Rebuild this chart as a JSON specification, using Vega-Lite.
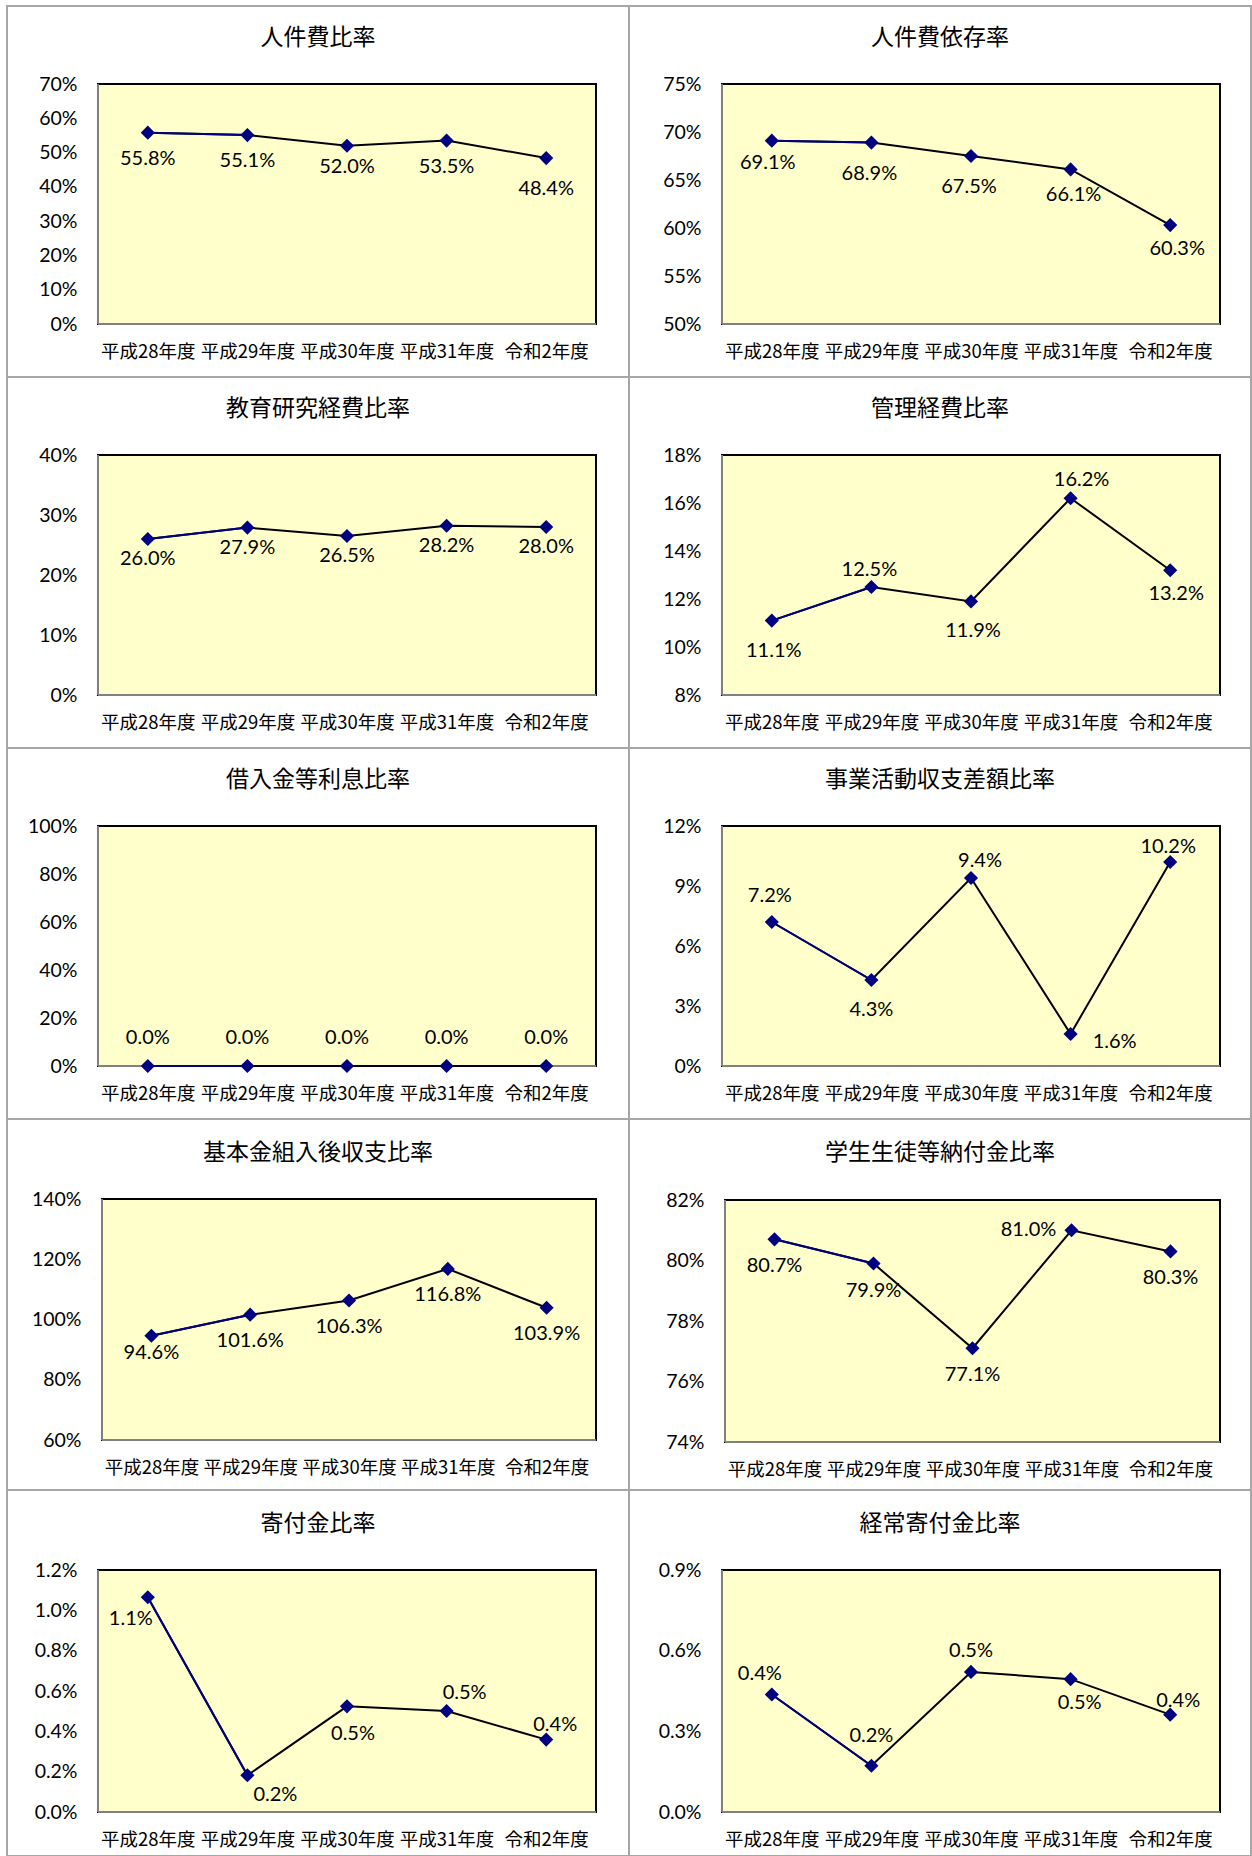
{
"$schema": "https://vega.github.io/schema/vega-lite/v6.json",
"background": "#ffffff",
"padding": {"left": 6, "top": 5, "right": 0, "bottom": 0},
"datasets": {
"p1": [{"i":0,"year":"平成28年度","v":0.558},{"i":1,"year":"平成29年度","v":0.551},{"i":2,"year":"平成30年度","v":0.520},{"i":3,"year":"平成31年度","v":0.535},{"i":4,"year":"令和2年度","v":0.484}],
"p2": [{"i":0,"year":"平成28年度","v":0.691},{"i":1,"year":"平成29年度","v":0.689},{"i":2,"year":"平成30年度","v":0.675},{"i":3,"year":"平成31年度","v":0.661},{"i":4,"year":"令和2年度","v":0.603}],
"p3": [{"i":0,"year":"平成28年度","v":0.260},{"i":1,"year":"平成29年度","v":0.279},{"i":2,"year":"平成30年度","v":0.265},{"i":3,"year":"平成31年度","v":0.282},{"i":4,"year":"令和2年度","v":0.280}],
"p4": [{"i":0,"year":"平成28年度","v":0.111},{"i":1,"year":"平成29年度","v":0.125},{"i":2,"year":"平成30年度","v":0.119},{"i":3,"year":"平成31年度","v":0.162},{"i":4,"year":"令和2年度","v":0.132}],
"p5": [{"i":0,"year":"平成28年度","v":0},{"i":1,"year":"平成29年度","v":0},{"i":2,"year":"平成30年度","v":0},{"i":3,"year":"平成31年度","v":0},{"i":4,"year":"令和2年度","v":0}],
"p6": [{"i":0,"year":"平成28年度","v":0.072},{"i":1,"year":"平成29年度","v":0.043},{"i":2,"year":"平成30年度","v":0.094},{"i":3,"year":"平成31年度","v":0.016},{"i":4,"year":"令和2年度","v":0.102}],
"p7": [{"i":0,"year":"平成28年度","v":0.946},{"i":1,"year":"平成29年度","v":1.016},{"i":2,"year":"平成30年度","v":1.063},{"i":3,"year":"平成31年度","v":1.168},{"i":4,"year":"令和2年度","v":1.039}],
"p8": [{"i":0,"year":"平成28年度","v":0.807},{"i":1,"year":"平成29年度","v":0.799},{"i":2,"year":"平成30年度","v":0.771},{"i":3,"year":"平成31年度","v":0.810},{"i":4,"year":"令和2年度","v":0.803}],
"p9": [{"i":0,"year":"平成28年度","v":0.01065},{"i":1,"year":"平成29年度","v":0.00182},{"i":2,"year":"平成30年度","v":0.00524},{"i":3,"year":"平成31年度","v":0.00501},{"i":4,"year":"令和2年度","v":0.00359}],
"p10": [{"i":0,"year":"平成28年度","v":0.00437},{"i":1,"year":"平成29年度","v":0.00172},{"i":2,"year":"平成30年度","v":0.00521},{"i":3,"year":"平成31年度","v":0.00494},{"i":4,"year":"令和2年度","v":0.00362}]
},
"columns": 2,
"spacing": 0,
"bounds": "flush",
"concat": [
{"width":622,"height":371,"title":{"text":"人件費比率"},"data":{"name":"p1"},
"encoding":{"x":{"field":"i","type":"quantitative","scale":{"domain":[-1.41365,4.83133],"nice":false,"zero":false},"axis":{"title":null,"values":[0,1,2,3,4],"labelExpr":"['平成28年度','平成29年度','平成30年度','平成31年度','令和2年度'][datum.value]","offset":-26}},
"y":{"field":"v","type":"quantitative","scale":{"domain":[-0.154583,0.9275],"nice":false,"zero":false},"axis":{"title":null,"values":[0,0.1,0.2,0.3,0.4,0.5,0.6,0.7],"format":".0%","offset":-70}}},
"layer":[
{"mark":{"type":"rect","fill":"#FFFFCC","stroke":"#000000","strokeWidth":2},"encoding":{"x":{"datum":-0.5},"x2":{"datum":4.5},"y":{"datum":0},"y2":{"datum":0.7}}},
{"data":{"values":[{"t":0.1},{"t":0.2},{"t":0.3},{"t":0.4},{"t":0.5},{"t":0.6}]},"mark":{"type":"rule","color":"#8c8c8c","strokeWidth":1.5},"encoding":{"x":{"datum":-0.5},"x2":{"datum":4.5},"y":{"field":"t","type":"quantitative"}}},
{"mark":{"type":"rule","color":"#808080","strokeWidth":2},"encoding":{"x":{"datum":-0.5},"y":{"datum":0},"y2":{"datum":0.7}}},
{"mark":{"type":"rule","color":"#808080","strokeWidth":2},"encoding":{"x":{"datum":-0.5},"x2":{"datum":4.5},"y":{"datum":0}}},
{"mark":{"type":"line","color":"#000000","strokeWidth":2},"encoding":{}},
{"transform":[{"filter":"datum.i<=1"}],"mark":{"type":"line","color":"#000080","strokeWidth":2},"encoding":{}},
{"mark":{"type":"point","shape":"diamond","filled":true,"color":"#000080","size":200,"opacity":1},"encoding":{}},
{"transform":[{"filter":"datum.i==0||datum.i==1||datum.i==3"}],"mark":{"type":"text","dy":26},"encoding":{"text":{"field":"v","type":"quantitative","format":".1%"}}},
{"transform":[{"filter":"datum.i==2"}],"mark":{"type":"text","dy":21},"encoding":{"text":{"field":"v","type":"quantitative","format":".1%"}}},
{"transform":[{"filter":"datum.i==4"}],"mark":{"type":"text","dy":31},"encoding":{"text":{"field":"v","type":"quantitative","format":".1%"}}}
]},
{"width":622,"height":371,"title":{"text":"人件費依存率"},"data":{"name":"p2"},
"encoding":{"x":{"field":"i","type":"quantitative","scale":{"domain":[-1.43373,4.81124],"nice":false,"zero":false},"axis":{"title":null,"values":[0,1,2,3,4],"labelExpr":"['平成28年度','平成29年度','平成30年度','平成31年度','令和2年度'][datum.value]","offset":-26}},
"y":{"field":"v","type":"quantitative","scale":{"domain":[0.4447917,0.83125],"nice":false,"zero":false},"axis":{"title":null,"values":[0.5,0.55,0.6,0.65,0.7,0.75],"format":".0%","offset":-72}}},
"layer":[
{"mark":{"type":"rect","fill":"#FFFFCC","stroke":"#000000","strokeWidth":2},"encoding":{"x":{"datum":-0.5},"x2":{"datum":4.5},"y":{"datum":0.5},"y2":{"datum":0.75}}},
{"data":{"values":[{"t":0.55},{"t":0.6},{"t":0.65},{"t":0.7}]},"mark":{"type":"rule","color":"#8c8c8c","strokeWidth":1.5},"encoding":{"x":{"datum":-0.5},"x2":{"datum":4.5},"y":{"field":"t","type":"quantitative"}}},
{"mark":{"type":"rule","color":"#808080","strokeWidth":2},"encoding":{"x":{"datum":-0.5},"y":{"datum":0.5},"y2":{"datum":0.75}}},
{"mark":{"type":"rule","color":"#808080","strokeWidth":2},"encoding":{"x":{"datum":-0.5},"x2":{"datum":4.5},"y":{"datum":0.5}}},
{"mark":{"type":"line","color":"#000000","strokeWidth":2},"encoding":{}},
{"transform":[{"filter":"datum.i<=1"}],"mark":{"type":"line","color":"#000080","strokeWidth":2},"encoding":{}},
{"mark":{"type":"point","shape":"diamond","filled":true,"color":"#000080","size":200,"opacity":1},"encoding":{}},
{"transform":[{"filter":"datum.i==0"}],"mark":{"type":"text","dx":-4,"dy":22},"encoding":{"text":{"field":"v","type":"quantitative","format":".1%"}}},
{"transform":[{"filter":"datum.i==1||datum.i==2"}],"mark":{"type":"text","dx":-2,"dy":31},"encoding":{"text":{"field":"v","type":"quantitative","format":".1%"}}},
{"transform":[{"filter":"datum.i==3"}],"mark":{"type":"text","dx":3,"dy":26},"encoding":{"text":{"field":"v","type":"quantitative","format":".1%"}}},
{"transform":[{"filter":"datum.i==4"}],"mark":{"type":"text","dx":7,"dy":24},"encoding":{"text":{"field":"v","type":"quantitative","format":".1%"}}}
]},
{"width":622,"height":371,"title":{"text":"教育研究経費比率"},"data":{"name":"p3"},
"encoding":{"x":{"field":"i","type":"quantitative","scale":{"domain":[-1.41365,4.83133],"nice":false,"zero":false},"axis":{"title":null,"values":[0,1,2,3,4],"labelExpr":"['平成28年度','平成29年度','平成30年度','平成31年度','令和2年度'][datum.value]","offset":-26}},
"y":{"field":"v","type":"quantitative","scale":{"domain":[-0.0883333,0.53],"nice":false,"zero":false},"axis":{"title":null,"values":[0,0.1,0.2,0.3,0.4],"format":".0%","offset":-70}}},
"layer":[
{"mark":{"type":"rect","fill":"#FFFFCC","stroke":"#000000","strokeWidth":2},"encoding":{"x":{"datum":-0.5},"x2":{"datum":4.5},"y":{"datum":0},"y2":{"datum":0.4}}},
{"data":{"values":[{"t":0.1},{"t":0.2},{"t":0.3}]},"mark":{"type":"rule","color":"#8c8c8c","strokeWidth":1.5},"encoding":{"x":{"datum":-0.5},"x2":{"datum":4.5},"y":{"field":"t","type":"quantitative"}}},
{"mark":{"type":"rule","color":"#808080","strokeWidth":2},"encoding":{"x":{"datum":-0.5},"y":{"datum":0},"y2":{"datum":0.4}}},
{"mark":{"type":"rule","color":"#808080","strokeWidth":2},"encoding":{"x":{"datum":-0.5},"x2":{"datum":4.5},"y":{"datum":0}}},
{"mark":{"type":"line","color":"#000000","strokeWidth":2},"encoding":{}},
{"transform":[{"filter":"datum.i<=1"}],"mark":{"type":"line","color":"#000080","strokeWidth":2},"encoding":{}},
{"mark":{"type":"point","shape":"diamond","filled":true,"color":"#000080","size":200,"opacity":1},"encoding":{}},
{"mark":{"type":"text","dy":20},"encoding":{"text":{"field":"v","type":"quantitative","format":".1%"}}}
]},
{"width":622,"height":371,"title":{"text":"管理経費比率"},"data":{"name":"p4"},
"encoding":{"x":{"field":"i","type":"quantitative","scale":{"domain":[-1.43373,4.81124],"nice":false,"zero":false},"axis":{"title":null,"values":[0,1,2,3,4],"labelExpr":"['平成28年度','平成29年度','平成30年度','平成31年度','令和2年度'][datum.value]","offset":-26}},
"y":{"field":"v","type":"quantitative","scale":{"domain":[0.0579167,0.2125],"nice":false,"zero":false},"axis":{"title":null,"values":[0.08,0.1,0.12,0.14,0.16,0.18],"format":".0%","offset":-72}}},
"layer":[
{"mark":{"type":"rect","fill":"#FFFFCC","stroke":"#000000","strokeWidth":2},"encoding":{"x":{"datum":-0.5},"x2":{"datum":4.5},"y":{"datum":0.08},"y2":{"datum":0.18}}},
{"data":{"values":[{"t":0.1},{"t":0.12},{"t":0.14},{"t":0.16}]},"mark":{"type":"rule","color":"#8c8c8c","strokeWidth":1.5},"encoding":{"x":{"datum":-0.5},"x2":{"datum":4.5},"y":{"field":"t","type":"quantitative"}}},
{"mark":{"type":"rule","color":"#808080","strokeWidth":2},"encoding":{"x":{"datum":-0.5},"y":{"datum":0.08},"y2":{"datum":0.18}}},
{"mark":{"type":"rule","color":"#808080","strokeWidth":2},"encoding":{"x":{"datum":-0.5},"x2":{"datum":4.5},"y":{"datum":0.08}}},
{"mark":{"type":"line","color":"#000000","strokeWidth":2},"encoding":{}},
{"transform":[{"filter":"datum.i<=1"}],"mark":{"type":"line","color":"#000080","strokeWidth":2},"encoding":{}},
{"mark":{"type":"point","shape":"diamond","filled":true,"color":"#000080","size":200,"opacity":1},"encoding":{}},
{"transform":[{"filter":"datum.i==0||datum.i==2"}],"mark":{"type":"text","dx":2,"dy":30},"encoding":{"text":{"field":"v","type":"quantitative","format":".1%"}}},
{"transform":[{"filter":"datum.i==4"}],"mark":{"type":"text","dx":6,"dy":24},"encoding":{"text":{"field":"v","type":"quantitative","format":".1%"}}},
{"transform":[{"filter":"datum.i==1"}],"mark":{"type":"text","dx":-2,"dy":-17},"encoding":{"text":{"field":"v","type":"quantitative","format":".1%"}}},
{"transform":[{"filter":"datum.i==3"}],"mark":{"type":"text","dx":11,"dy":-18},"encoding":{"text":{"field":"v","type":"quantitative","format":".1%"}}}
]},
{"width":622,"height":371,"title":{"text":"借入金等利息比率"},"data":{"name":"p5"},
"encoding":{"x":{"field":"i","type":"quantitative","scale":{"domain":[-1.41365,4.83133],"nice":false,"zero":false},"axis":{"title":null,"values":[0,1,2,3,4],"labelExpr":"['平成28年度','平成29年度','平成30年度','平成31年度','令和2年度'][datum.value]","offset":-26}},
"y":{"field":"v","type":"quantitative","scale":{"domain":[-0.2208333,1.325],"nice":false,"zero":false},"axis":{"title":null,"values":[0,0.2,0.4,0.6,0.8,1.0],"format":".0%","offset":-70}}},
"layer":[
{"mark":{"type":"rect","fill":"#FFFFCC","stroke":"#000000","strokeWidth":2},"encoding":{"x":{"datum":-0.5},"x2":{"datum":4.5},"y":{"datum":0},"y2":{"datum":1.0}}},
{"data":{"values":[{"t":0.2},{"t":0.4},{"t":0.6},{"t":0.8}]},"mark":{"type":"rule","color":"#8c8c8c","strokeWidth":1.5},"encoding":{"x":{"datum":-0.5},"x2":{"datum":4.5},"y":{"field":"t","type":"quantitative"}}},
{"mark":{"type":"rule","color":"#808080","strokeWidth":2},"encoding":{"x":{"datum":-0.5},"y":{"datum":0},"y2":{"datum":1.0}}},
{"mark":{"type":"rule","color":"#808080","strokeWidth":2},"encoding":{"x":{"datum":-0.5},"x2":{"datum":4.5},"y":{"datum":0}}},
{"mark":{"type":"line","color":"#000000","strokeWidth":2},"encoding":{}},
{"transform":[{"filter":"datum.i<=1"}],"mark":{"type":"line","color":"#000080","strokeWidth":2},"encoding":{}},
{"mark":{"type":"point","shape":"diamond","filled":true,"color":"#000080","size":200,"opacity":1},"encoding":{}},
{"mark":{"type":"text","dy":-28},"encoding":{"text":{"field":"v","type":"quantitative","format":".1%"}}}
]},
{"width":622,"height":371,"title":{"text":"事業活動収支差額比率"},"data":{"name":"p6"},
"encoding":{"x":{"field":"i","type":"quantitative","scale":{"domain":[-1.43373,4.81124],"nice":false,"zero":false},"axis":{"title":null,"values":[0,1,2,3,4],"labelExpr":"['平成28年度','平成29年度','平成30年度','平成31年度','令和2年度'][datum.value]","offset":-26}},
"y":{"field":"v","type":"quantitative","scale":{"domain":[-0.0265,0.159],"nice":false,"zero":false},"axis":{"title":null,"values":[0,0.03,0.06,0.09,0.12],"format":".0%","offset":-72}}},
"layer":[
{"mark":{"type":"rect","fill":"#FFFFCC","stroke":"#000000","strokeWidth":2},"encoding":{"x":{"datum":-0.5},"x2":{"datum":4.5},"y":{"datum":0},"y2":{"datum":0.12}}},
{"data":{"values":[{"t":0.03},{"t":0.06},{"t":0.09}]},"mark":{"type":"rule","color":"#8c8c8c","strokeWidth":1.5},"encoding":{"x":{"datum":-0.5},"x2":{"datum":4.5},"y":{"field":"t","type":"quantitative"}}},
{"mark":{"type":"rule","color":"#808080","strokeWidth":2},"encoding":{"x":{"datum":-0.5},"y":{"datum":0},"y2":{"datum":0.12}}},
{"mark":{"type":"rule","color":"#808080","strokeWidth":2},"encoding":{"x":{"datum":-0.5},"x2":{"datum":4.5},"y":{"datum":0}}},
{"mark":{"type":"line","color":"#000000","strokeWidth":2},"encoding":{}},
{"transform":[{"filter":"datum.i<=1"}],"mark":{"type":"line","color":"#000080","strokeWidth":2},"encoding":{}},
{"mark":{"type":"point","shape":"diamond","filled":true,"color":"#000080","size":200,"opacity":1},"encoding":{}},
{"transform":[{"filter":"datum.i==0"}],"mark":{"type":"text","dx":-2,"dy":-26},"encoding":{"text":{"field":"v","type":"quantitative","format":".1%"}}},
{"transform":[{"filter":"datum.i==1"}],"mark":{"type":"text","dy":30},"encoding":{"text":{"field":"v","type":"quantitative","format":".1%"}}},
{"transform":[{"filter":"datum.i==2"}],"mark":{"type":"text","dx":9,"dy":-17},"encoding":{"text":{"field":"v","type":"quantitative","format":".1%"}}},
{"transform":[{"filter":"datum.i==3"}],"mark":{"type":"text","dx":44,"dy":8},"encoding":{"text":{"field":"v","type":"quantitative","format":".1%"}}},
{"transform":[{"filter":"datum.i==4"}],"mark":{"type":"text","dx":-2,"dy":-15},"encoding":{"text":{"field":"v","type":"quantitative","format":".1%"}}}
]},
{"width":622,"height":371,"title":{"text":"基本金組入後収支比率","offset":-46},"data":{"name":"p7"},
"encoding":{"x":{"field":"i","type":"quantitative","scale":{"domain":[-1.46154,4.83401],"nice":false,"zero":false},"axis":{"title":null,"values":[0,1,2,3,4],"labelExpr":"['平成28年度','平成29年度','平成30年度','平成31年度','令和2年度'][datum.value]","offset":-23}},
"y":{"field":"v","type":"quantitative","scale":{"domain":[0.434025,1.66556],"nice":false,"zero":false},"axis":{"title":null,"values":[0.6,0.8,1.0,1.2,1.4],"format":".0%","offset":-74}}},
"layer":[
{"mark":{"type":"rect","fill":"#FFFFCC","stroke":"#000000","strokeWidth":2},"encoding":{"x":{"datum":-0.5},"x2":{"datum":4.5},"y":{"datum":0.6},"y2":{"datum":1.4}}},
{"data":{"values":[{"t":0.8},{"t":1.0},{"t":1.2}]},"mark":{"type":"rule","color":"#8c8c8c","strokeWidth":1.5},"encoding":{"x":{"datum":-0.5},"x2":{"datum":4.5},"y":{"field":"t","type":"quantitative"}}},
{"mark":{"type":"rule","color":"#808080","strokeWidth":2},"encoding":{"x":{"datum":-0.5},"y":{"datum":0.6},"y2":{"datum":1.4}}},
{"mark":{"type":"rule","color":"#808080","strokeWidth":2},"encoding":{"x":{"datum":-0.5},"x2":{"datum":4.5},"y":{"datum":0.6}}},
{"mark":{"type":"line","color":"#000000","strokeWidth":2},"encoding":{}},
{"transform":[{"filter":"datum.i<=1"}],"mark":{"type":"line","color":"#000080","strokeWidth":2},"encoding":{}},
{"mark":{"type":"point","shape":"diamond","filled":true,"color":"#000080","size":200,"opacity":1},"encoding":{}},
{"transform":[{"filter":"datum.i==0"}],"mark":{"type":"text","dy":17},"encoding":{"text":{"field":"v","type":"quantitative","format":".1%"}}},
{"transform":[{"filter":"datum.i>=1"}],"mark":{"type":"text","dy":26},"encoding":{"text":{"field":"v","type":"quantitative","format":".1%"}}}
]},
{"width":622,"height":371,"title":{"text":"学生生徒等納付金比率","offset":-46},"data":{"name":"p8"},
"encoding":{"x":{"field":"i","type":"quantitative","scale":{"domain":[-1.4697,4.81313],"nice":false,"zero":false},"axis":{"title":null,"values":[0,1,2,3,4],"labelExpr":"['平成28年度','平成29年度','平成30年度','平成31年度','令和2年度'][datum.value]","offset":-21}},
"y":{"field":"v","type":"quantitative","scale":{"domain":[0.7241322,0.8467769],"nice":false,"zero":false},"axis":{"title":null,"values":[0.74,0.76,0.78,0.8,0.82],"format":".0%","offset":-75}}},
"layer":[
{"mark":{"type":"rect","fill":"#FFFFCC","stroke":"#000000","strokeWidth":2},"encoding":{"x":{"datum":-0.5},"x2":{"datum":4.5},"y":{"datum":0.74},"y2":{"datum":0.82}}},
{"data":{"values":[{"t":0.76},{"t":0.78},{"t":0.8}]},"mark":{"type":"rule","color":"#8c8c8c","strokeWidth":1.5},"encoding":{"x":{"datum":-0.5},"x2":{"datum":4.5},"y":{"field":"t","type":"quantitative"}}},
{"mark":{"type":"rule","color":"#808080","strokeWidth":2},"encoding":{"x":{"datum":-0.5},"y":{"datum":0.74},"y2":{"datum":0.82}}},
{"mark":{"type":"rule","color":"#808080","strokeWidth":2},"encoding":{"x":{"datum":-0.5},"x2":{"datum":4.5},"y":{"datum":0.74}}},
{"mark":{"type":"line","color":"#000000","strokeWidth":2},"encoding":{}},
{"transform":[{"filter":"datum.i<=1"}],"mark":{"type":"line","color":"#000080","strokeWidth":2},"encoding":{}},
{"mark":{"type":"point","shape":"diamond","filled":true,"color":"#000080","size":200,"opacity":1},"encoding":{}},
{"transform":[{"filter":"datum.i!=3"}],"mark":{"type":"text","dy":27},"encoding":{"text":{"field":"v","type":"quantitative","format":".1%"}}},
{"transform":[{"filter":"datum.i==3"}],"mark":{"type":"text","dx":-43,"dy":0},"encoding":{"text":{"field":"v","type":"quantitative","format":".1%"}}}
]},
{"width":622,"height":366,"title":{"text":"寄付金比率","offset":-46},"data":{"name":"p9"},
"encoding":{"x":{"field":"i","type":"quantitative","scale":{"domain":[-1.41365,4.83133],"nice":false,"zero":false},"axis":{"title":null,"values":[0,1,2,3,4],"labelExpr":"['平成28年度','平成29年度','平成30年度','平成31年度','令和2年度'][datum.value]","offset":-17}},
"y":{"field":"v","type":"quantitative","scale":{"domain":[-0.00218182,0.01596694],"nice":false,"zero":false},"axis":{"title":null,"values":[0,0.002,0.004,0.006,0.008,0.01,0.012],"format":".1%","offset":-70}}},
"layer":[
{"mark":{"type":"rect","fill":"#FFFFCC","stroke":"#000000","strokeWidth":2},"encoding":{"x":{"datum":-0.5},"x2":{"datum":4.5},"y":{"datum":0},"y2":{"datum":0.012}}},
{"data":{"values":[{"t":0.002},{"t":0.004},{"t":0.006},{"t":0.008},{"t":0.01}]},"mark":{"type":"rule","color":"#8c8c8c","strokeWidth":1.5},"encoding":{"x":{"datum":-0.5},"x2":{"datum":4.5},"y":{"field":"t","type":"quantitative"}}},
{"mark":{"type":"rule","color":"#808080","strokeWidth":2},"encoding":{"x":{"datum":-0.5},"y":{"datum":0},"y2":{"datum":0.012}}},
{"mark":{"type":"rule","color":"#808080","strokeWidth":2},"encoding":{"x":{"datum":-0.5},"x2":{"datum":4.5},"y":{"datum":0}}},
{"mark":{"type":"line","color":"#000000","strokeWidth":2},"encoding":{}},
{"transform":[{"filter":"datum.i<=1"}],"mark":{"type":"line","color":"#000080","strokeWidth":2},"encoding":{}},
{"mark":{"type":"point","shape":"diamond","filled":true,"color":"#000080","size":200,"opacity":1},"encoding":{}},
{"transform":[{"filter":"datum.i==0"}],"mark":{"type":"text","dx":-17,"dy":22},"encoding":{"text":{"field":"v","type":"quantitative","format":".1%"}}},
{"transform":[{"filter":"datum.i==1"}],"mark":{"type":"text","dx":28,"dy":20},"encoding":{"text":{"field":"v","type":"quantitative","format":".1%"}}},
{"transform":[{"filter":"datum.i==2"}],"mark":{"type":"text","dx":6,"dy":28},"encoding":{"text":{"field":"v","type":"quantitative","format":".1%"}}},
{"transform":[{"filter":"datum.i==3"}],"mark":{"type":"text","dx":18,"dy":-18},"encoding":{"text":{"field":"v","type":"quantitative","format":".1%"}}},
{"transform":[{"filter":"datum.i==4"}],"mark":{"type":"text","dx":9,"dy":-15},"encoding":{"text":{"field":"v","type":"quantitative","format":".1%"}}}
]},
{"width":622,"height":366,"title":{"text":"経常寄付金比率","offset":-46},"data":{"name":"p10"},
"encoding":{"x":{"field":"i","type":"quantitative","scale":{"domain":[-1.43373,4.81124],"nice":false,"zero":false},"axis":{"title":null,"values":[0,1,2,3,4],"labelExpr":"['平成28年度','平成29年度','平成30年度','平成31年度','令和2年度'][datum.value]","offset":-17}},
"y":{"field":"v","type":"quantitative","scale":{"domain":[-0.00163636,0.01197521],"nice":false,"zero":false},"axis":{"title":null,"values":[0,0.003,0.006,0.009],"format":".1%","offset":-72}}},
"layer":[
{"mark":{"type":"rect","fill":"#FFFFCC","stroke":"#000000","strokeWidth":2},"encoding":{"x":{"datum":-0.5},"x2":{"datum":4.5},"y":{"datum":0},"y2":{"datum":0.009}}},
{"data":{"values":[{"t":0.003},{"t":0.006}]},"mark":{"type":"rule","color":"#8c8c8c","strokeWidth":1.5},"encoding":{"x":{"datum":-0.5},"x2":{"datum":4.5},"y":{"field":"t","type":"quantitative"}}},
{"mark":{"type":"rule","color":"#808080","strokeWidth":2},"encoding":{"x":{"datum":-0.5},"y":{"datum":0},"y2":{"datum":0.009}}},
{"mark":{"type":"rule","color":"#808080","strokeWidth":2},"encoding":{"x":{"datum":-0.5},"x2":{"datum":4.5},"y":{"datum":0}}},
{"mark":{"type":"line","color":"#000000","strokeWidth":2},"encoding":{}},
{"transform":[{"filter":"datum.i<=1"}],"mark":{"type":"line","color":"#000080","strokeWidth":2},"encoding":{}},
{"mark":{"type":"point","shape":"diamond","filled":true,"color":"#000080","size":200,"opacity":1},"encoding":{}},
{"transform":[{"filter":"datum.i==0"}],"mark":{"type":"text","dx":-12,"dy":-20},"encoding":{"text":{"field":"v","type":"quantitative","format":".1%"}}},
{"transform":[{"filter":"datum.i==1"}],"mark":{"type":"text","dy":-30},"encoding":{"text":{"field":"v","type":"quantitative","format":".1%"}}},
{"transform":[{"filter":"datum.i==2"}],"mark":{"type":"text","dy":-21},"encoding":{"text":{"field":"v","type":"quantitative","format":".1%"}}},
{"transform":[{"filter":"datum.i==3"}],"mark":{"type":"text","dx":9,"dy":24},"encoding":{"text":{"field":"v","type":"quantitative","format":".1%"}}},
{"transform":[{"filter":"datum.i==4"}],"mark":{"type":"text","dx":8,"dy":-14},"encoding":{"text":{"field":"v","type":"quantitative","format":".1%"}}}
]}
],
"config": {
"view": {"stroke": "#a6a6a6", "strokeWidth": 2, "fill": "#ffffff"},
"axis": {"domain": false, "ticks": false, "tickSize": 0, "grid": false, "labelPadding": 0, "labelColor": "#000000"},
"axisX": {"labelFont": "Noto Sans CJK JP", "labelFontSize": 18.5, "labelBaseline": "middle", "labelOverlap": false, "labelFlush": false, "labelAngle": 0},
"axisY": {"labelFont": "Lato", "labelFontSize": 19.5, "labelBaseline": "middle", "labelAlign": "right"},
"title": {"font": "Noto Sans CJK JP", "fontSize": 23, "fontWeight": "normal", "color": "#000000", "anchor": "middle", "frame": "group", "offset": -44, "baseline": "middle"},
"text": {"font": "Lato", "fontSize": 20, "fill": "#000000", "align": "center", "baseline": "middle"}
}
}
